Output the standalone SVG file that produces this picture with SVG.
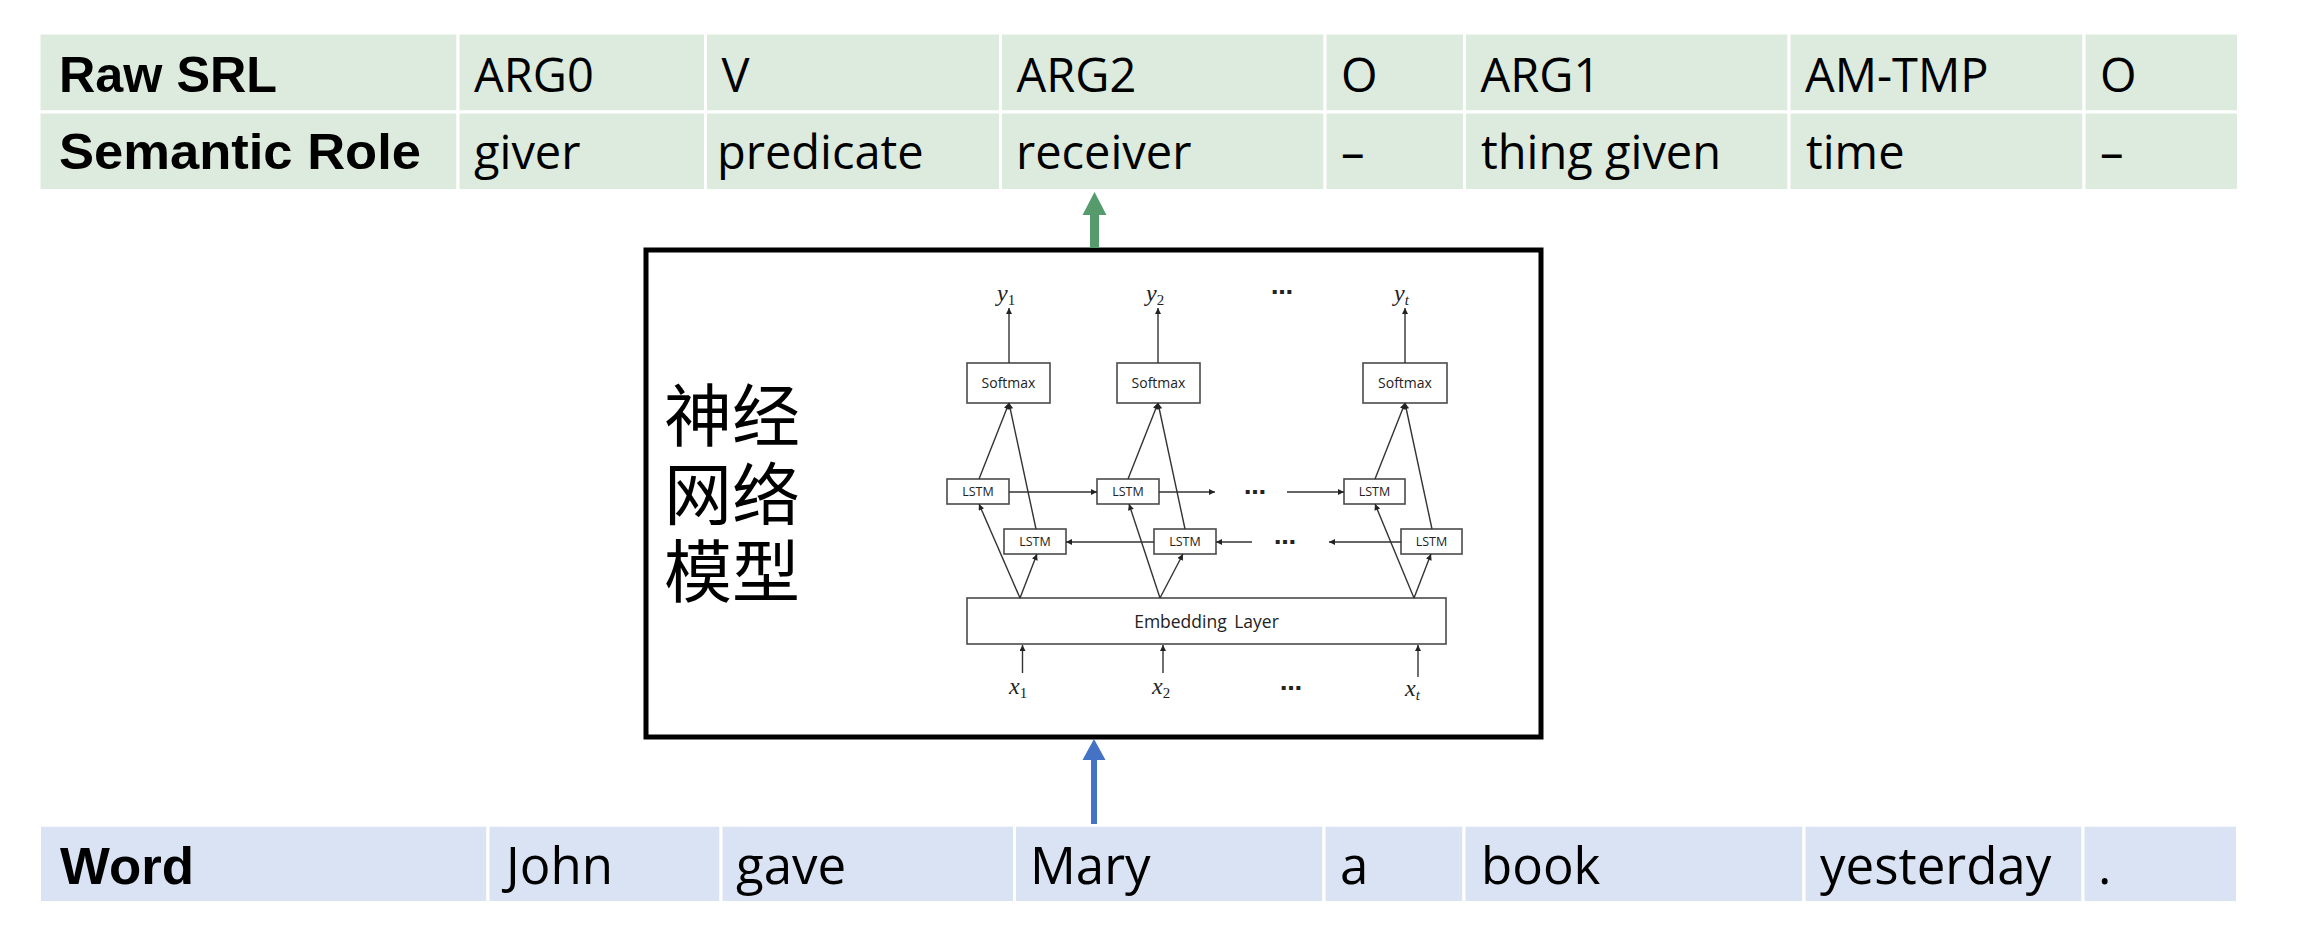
<svg xmlns="http://www.w3.org/2000/svg" width="2302" height="952" viewBox="0 0 2302 952">
<style>
.gc{fill:#DCEBDD;stroke:#FFFFFF;stroke-width:3}
.bc{fill:#DAE3F3;stroke:#FFFFFF;stroke-width:3}
.hb1{font-family:"Liberation Sans",Arial,sans-serif;font-weight:bold;font-size:50px;fill:#000}
.hb2{font-family:"Liberation Sans",Arial,sans-serif;font-weight:bold;font-size:52px;fill:#000}
.c1{font-family:"Open Sans","Noto Sans",sans-serif;font-size:47px;fill:#000}
.c2{font-family:"Open Sans","Noto Sans",sans-serif;font-size:51px;fill:#000}
.cjk{font-family:"Noto Sans CJK SC",sans-serif;font-size:68px;fill:#000}
.nb{fill:#FFFFFF;stroke:#4A4A4A;stroke-width:1.6}
.sm{font-family:"Open Sans","Noto Sans",sans-serif;font-size:14px;fill:#222;text-anchor:middle}
.ls{font-family:"Open Sans","Noto Sans",sans-serif;font-size:12.5px;fill:#222;text-anchor:middle}
.em{font-family:"Open Sans","Noto Sans",sans-serif;font-size:17.5px;fill:#222;text-anchor:middle;word-spacing:3px}
.mi{font-family:"Liberation Serif","DejaVu Serif",serif;font-style:italic;font-size:24px;fill:#222}
.sub{font-size:15px;font-style:normal}
.subi{font-size:15px;font-style:italic}
.dots{font-family:"DejaVu Sans",sans-serif;font-weight:bold;font-size:22px;fill:#222}
.nl{stroke:#333;stroke-width:1.4;fill:none;marker-end:url(#ah)}
</style>
<defs>
<marker id="ah" viewBox="0 0 10 10" refX="10" refY="5" markerWidth="7" markerHeight="6" markerUnits="userSpaceOnUse" orient="auto">
<path d="M0,0 L10,5 L0,10 z" fill="#222"/>
</marker>
</defs>
<rect x="0" y="0" width="2302" height="952" fill="#FFFFFF"/>

<g id="srl-table">
<g id="row-raw-srl">
<rect class="gc" x="39" y="33" width="419" height="79"/>
<rect class="gc" x="458" y="33" width="247.5" height="79"/>
<rect class="gc" x="705.5" y="33" width="295" height="79"/>
<rect class="gc" x="1000.5" y="33" width="324.5" height="79"/>
<rect class="gc" x="1325" y="33" width="139.5" height="79"/>
<rect class="gc" x="1464.5" y="33" width="324.5" height="79"/>
<rect class="gc" x="1789" y="33" width="295" height="79"/>
<rect class="gc" x="2084" y="33" width="154.5" height="79"/>
<text class="hb1" x="59" y="92" textLength="218" lengthAdjust="spacingAndGlyphs">Raw SRL</text>
<text class="c1" x="474" y="92">ARG0</text>
<text class="c1" x="721.5" y="92">V</text>
<text class="c1" x="1016.5" y="92">ARG2</text>
<text class="c1" x="1341" y="92">O</text>
<text class="c1" x="1480.5" y="92">ARG1</text>
<text class="c1" x="1805" y="92">AM-TMP</text>
<text class="c1" x="2100" y="92">O</text>
</g>
<g id="row-semantic-role">
<rect class="gc" x="39" y="112" width="419" height="78.5"/>
<rect class="gc" x="458" y="112" width="247.5" height="78.5"/>
<rect class="gc" x="705.5" y="112" width="295" height="78.5"/>
<rect class="gc" x="1000.5" y="112" width="324.5" height="78.5"/>
<rect class="gc" x="1325" y="112" width="139.5" height="78.5"/>
<rect class="gc" x="1464.5" y="112" width="324.5" height="78.5"/>
<rect class="gc" x="1789" y="112" width="295" height="78.5"/>
<rect class="gc" x="2084" y="112" width="154.5" height="78.5"/>
<text class="hb1" x="59" y="169" textLength="362" lengthAdjust="spacingAndGlyphs">Semantic Role</text>
<text class="c1" x="474" y="169">giver</text>
<text class="c1" x="717" y="169">predicate</text>
<text class="c1" x="1016" y="169">receiver</text>
<text class="c1" x="1341" y="169">–</text>
<text class="c1" x="1481" y="169">thing given</text>
<text class="c1" x="1806" y="169">time</text>
<text class="c1" x="2100" y="169">–</text>
</g>
</g>

<g id="word-table">
<rect class="bc" x="39.5" y="825.2" width="448.5" height="77.3"/>
<rect class="bc" x="488" y="825.2" width="233" height="77.3"/>
<rect class="bc" x="721" y="825.2" width="293.5" height="77.3"/>
<rect class="bc" x="1014.5" y="825.2" width="309.5" height="77.3"/>
<rect class="bc" x="1324" y="825.2" width="140" height="77.3"/>
<rect class="bc" x="1464" y="825.2" width="340" height="77.3"/>
<rect class="bc" x="1804" y="825.2" width="279" height="77.3"/>
<rect class="bc" x="2083" y="825.2" width="154.5" height="77.3"/>
<text class="hb2" x="60" y="884" textLength="134" lengthAdjust="spacingAndGlyphs">Word</text>
<text class="c2" x="506" y="884">John</text>
<text class="c2" x="736" y="884">gave</text>
<text class="c2" x="1030" y="884">Mary</text>
<text class="c2" x="1340" y="884">a</text>
<text class="c2" x="1481" y="884">book</text>
<text class="c2" x="1820" y="884">yesterday</text>
<text class="c2" x="2098" y="884">.</text>
</g>

<g id="model-box">
<rect x="646" y="250" width="895" height="487" fill="#FFFFFF" stroke="#000000" stroke-width="5"/>
<text class="cjk" x="664" y="441">神经<tspan x="664" dy="79">网络</tspan><tspan x="664" dy="77">模型</tspan></text>
</g>

<g id="softmax-1"><rect class="nb" x="967" y="363" width="83" height="40"/><text class="sm" x="1008.5" y="388">Softmax</text></g>
<g id="softmax-2"><rect class="nb" x="1117" y="363" width="83" height="40"/><text class="sm" x="1158.5" y="388">Softmax</text></g>
<g id="softmax-t"><rect class="nb" x="1363" y="363" width="84" height="40"/><text class="sm" x="1405" y="388">Softmax</text></g>

<g id="lstm-f1"><rect class="nb" x="947" y="479" width="62" height="25"/><text class="ls" x="978" y="496">LSTM</text></g>
<g id="lstm-b1"><rect class="nb" x="1004" y="529" width="62" height="25"/><text class="ls" x="1035" y="546">LSTM</text></g>
<g id="lstm-f2"><rect class="nb" x="1097" y="479" width="62" height="25"/><text class="ls" x="1128" y="496">LSTM</text></g>
<g id="lstm-b2"><rect class="nb" x="1154" y="529" width="62" height="25"/><text class="ls" x="1185" y="546">LSTM</text></g>
<g id="lstm-ft"><rect class="nb" x="1344" y="479" width="61" height="25"/><text class="ls" x="1374.5" y="496">LSTM</text></g>
<g id="lstm-bt"><rect class="nb" x="1401" y="529" width="61" height="25"/><text class="ls" x="1431.5" y="546">LSTM</text></g>

<g id="embedding-layer"><rect class="nb" x="967" y="598" width="479" height="46"/><text class="em" x="1206.5" y="628">Embedding Layer</text></g>

<g id="output-labels">
<text class="mi" x="997" y="301">y<tspan class="sub" dy="4">1</tspan></text>
<text class="mi" x="1146" y="301">y<tspan class="sub" dy="4">2</tspan></text>
<text class="mi" x="1394" y="301">y<tspan class="subi" dy="4">t</tspan></text>
<text class="dots" x="1271" y="294">…</text>
</g>
<g id="input-labels">
<text class="mi" x="1009" y="694">x<tspan class="sub" dy="4">1</tspan></text>
<text class="mi" x="1152" y="694">x<tspan class="sub" dy="4">2</tspan></text>
<text class="mi" x="1405" y="696">x<tspan class="subi" dy="4">t</tspan></text>
<text class="dots" x="1280" y="690">…</text>
</g>
<g id="middle-dots">
<text class="dots" x="1244" y="494">…</text>
<text class="dots" x="1274" y="544">…</text>
</g>

<g id="connectors">
<polygon points="1090,248 1090,215 1082.5,215 1094.5,192 1106.5,215 1099,215 1099,248" fill="#559B6B"/>
<polygon points="1091,824 1091,760 1082.5,760 1094,739 1105.5,760 1097,760 1097,824" fill="#4472C4"/>
<g id="nn-connectors">
<line class="nl" x1="1009" y1="363" x2="1009" y2="308"/>
<line class="nl" x1="979" y1="479" x2="1009" y2="403"/>
<line class="nl" x1="1036" y1="529" x2="1009" y2="403"/>
<line class="nl" x1="1020" y1="598" x2="979" y2="504"/>
<line class="nl" x1="1020" y1="598" x2="1037" y2="554"/>
<line class="nl" x1="1022.5" y1="673" x2="1022.5" y2="645"/>
<line class="nl" x1="1009" y1="492" x2="1097" y2="492"/>
<line class="nl" x1="1154" y1="542" x2="1066" y2="542"/>
<line class="nl" x1="1158" y1="363" x2="1158" y2="308"/>
<line class="nl" x1="1128" y1="479" x2="1158" y2="403"/>
<line class="nl" x1="1185" y1="529" x2="1158" y2="403"/>
<line class="nl" x1="1160" y1="598" x2="1129" y2="504"/>
<line class="nl" x1="1160" y1="598" x2="1183" y2="554"/>
<line class="nl" x1="1163" y1="673" x2="1163" y2="645"/>
<line class="nl" x1="1159" y1="492" x2="1215" y2="492"/>
<line class="nl" x1="1252" y1="542" x2="1216" y2="542"/>
<line class="nl" x1="1405" y1="363" x2="1405" y2="308"/>
<line class="nl" x1="1375" y1="479" x2="1405" y2="403"/>
<line class="nl" x1="1432" y1="529" x2="1405" y2="403"/>
<line class="nl" x1="1414" y1="598" x2="1375" y2="504"/>
<line class="nl" x1="1414" y1="598" x2="1431" y2="554"/>
<line class="nl" x1="1418" y1="677" x2="1418" y2="645"/>
<line class="nl" x1="1287" y1="492" x2="1344" y2="492"/>
<line class="nl" x1="1401" y1="542" x2="1329" y2="542"/>
</g>
</g>
</svg>
